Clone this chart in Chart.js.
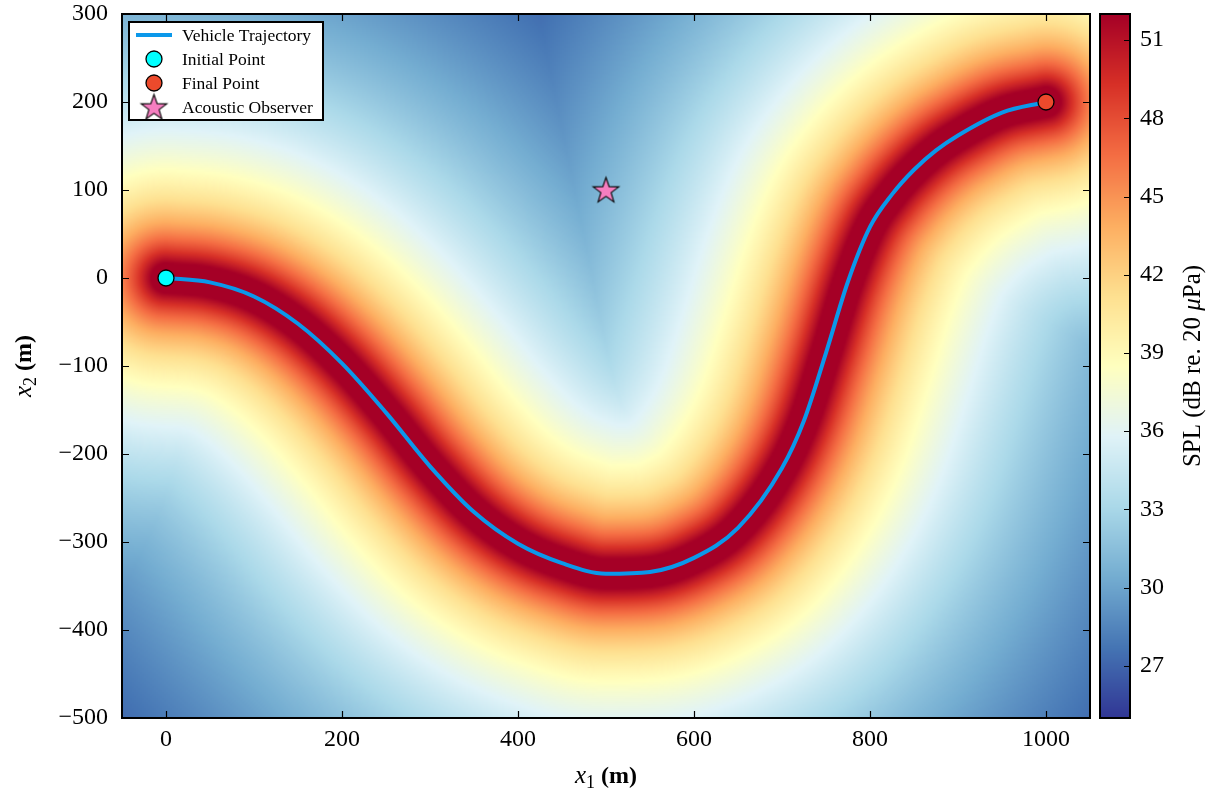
<!DOCTYPE html>
<html><head><meta charset="utf-8">
<script src="https://cdn.jsdelivr.net/npm/chart.js@4.4.1/dist/chart.umd.min.js"></script>
<style>html,body{margin:0;padding:0;background:#fff;}#wrap{position:relative;width:1213px;height:790px;}</style>
</head><body><div id="wrap"><canvas id="c" width="1213" height="790"></canvas></div>
<script>
// ---- data ----
const TRAJ_X = [0,50,100,150,200,250,300,350,400,450,500,550,600,650,700,725,750,775,800,825,850,875,900,950,1000];
const TRAJ_Y = [0,-5,-21,-52,-97,-153,-214,-266,-302,-324,-336,-334,-318,-284,-216,-162,-85,-4,58,95,123,145,162,188,200];
const INITIAL_POINT = [0, 0];
const FINAL_POINT = [1000, 200];
const OBSERVER = [500, 100];
const X_TICKS = [0,200,400,600,800,1000];
const Y_TICKS = [-500,-400,-300,-200,-100,0,100,200,300];
const SPL_TICKS = [27,30,33,36,39,42,45,48,51];
const X_RANGE = [-50, 1050];
const Y_RANGE = [-500, 300];
const SPL_RANGE = [25, 52];
const LABELS = ['Vehicle Trajectory','Initial Point','Final Point','Acoustic Observer'];
// SPL field model: level at 1 m and vehicle altitude (m)
const SPL_AT_1M = 80.4;
const ALTITUDE = 20;
const CMAP = ['#313695','#4575b4','#74add1','#abd9e9','#e0f3f8','#ffffbf','#fee090','#fdae61','#f46d43','#d73027','#a50026'];

const FONT = '"Liberation Serif", "DejaVu Serif", serif';
const LINE_COLOR = '#0b98ea';

function hex(h){return [parseInt(h.slice(1,3),16),parseInt(h.slice(3,5),16),parseInt(h.slice(5,7),16)];}
const CMAP_RGB = CMAP.map(hex);
function cmap(t){
  t = Math.max(0, Math.min(1, t));
  const f = t*(CMAP_RGB.length-1), i = Math.min(Math.floor(f), CMAP_RGB.length-2), u = f-i;
  const a = CMAP_RGB[i], b = CMAP_RGB[i+1];
  return [a[0]+(b[0]-a[0])*u, a[1]+(b[1]-a[1])*u, a[2]+(b[2]-a[2])*u];
}

// monotone cubic (same scheme the line uses) to get the trajectory geometry
function monoSlopes(xs, ys){
  const n = xs.length, d = [], m = new Array(n);
  for (let i=0;i<n-1;i++) d.push((ys[i+1]-ys[i])/(xs[i+1]-xs[i]));
  m[0]=d[0]; m[n-1]=d[n-2];
  for (let i=1;i<n-1;i++) m[i] = (d[i-1]*d[i] <= 0) ? 0 : (d[i-1]+d[i])/2;
  for (let i=0;i<n-1;i++){
    if (d[i]===0){m[i]=0;m[i+1]=0;continue;}
    const a=m[i]/d[i], b=m[i+1]/d[i], s=a*a+b*b;
    if (s>9){const t=3/Math.sqrt(s); m[i]=t*a*d[i]; m[i+1]=t*b*d[i];}
  }
  return m;
}
function samplePath(){
  const m = monoSlopes(TRAJ_X, TRAJ_Y), px=[], py=[];
  for (let i=0;i<TRAJ_X.length-1;i++){
    const x0=TRAJ_X[i], x1=TRAJ_X[i+1], y0=TRAJ_Y[i], y1=TRAJ_Y[i+1], h=x1-x0;
    const N = 16;
    for (let k=0;k<N;k++){
      const t=k/N, t2=t*t, t3=t2*t;
      const y = (2*t3-3*t2+1)*y0 + (t3-2*t2+t)*h*m[i] + (-2*t3+3*t2)*y1 + (t3-t2)*h*m[i+1];
      px.push(x0+h*t); py.push(y);
    }
  }
  px.push(TRAJ_X[TRAJ_X.length-1]); py.push(TRAJ_Y[TRAJ_Y.length-1]);
  return [px, py];
}

function buildField(chart){
  const a = chart.chartArea, sx = chart.scales.x, sy = chart.scales.y;
  const W = Math.ceil(a.width/2), H = Math.ceil(a.height/2);
  const cv = document.createElement('canvas'); cv.width=W; cv.height=H;
  const c = cv.getContext('2d'); const img = c.createImageData(W,H);
  const [px, py] = samplePath(); const n = px.length;
  const xv = new Float64Array(W);
  for (let i=0;i<W;i++) xv[i] = sx.getValueForPixel(a.left + (i+0.5)*a.width/W);
  for (let j=0;j<H;j++){
    const yv = sy.getValueForPixel(a.top + (j+0.5)*a.height/H);
    for (let i=0;i<W;i++){
      const X = xv[i]; let best = Infinity;
      for (let k=0;k<n-1;k++){
        const ax=px[k], ay=py[k], bx=px[k+1]-ax, by=py[k+1]-ay;
        let t = ((X-ax)*bx + (yv-ay)*by)/(bx*bx+by*by);
        t = t<0?0:(t>1?1:t);
        const dx = X-ax-t*bx, dy = yv-ay-t*by, d2 = dx*dx+dy*dy;
        if (d2<best) best=d2;
      }
      const spl = SPL_AT_1M - 10*Math.log10(best + ALTITUDE*ALTITUDE);
      const col = cmap((spl-SPL_RANGE[0])/(SPL_RANGE[1]-SPL_RANGE[0]));
      const o = (j*W+i)*4;
      img.data[o]=col[0]; img.data[o+1]=col[1]; img.data[o+2]=col[2]; img.data[o+3]=255;
    }
  }
  c.putImageData(img,0,0);
  return cv;
}

function makeStar(R, fill){
  const s = Math.ceil(R*2+4), cv = document.createElement('canvas'); cv.width=s; cv.height=s;
  const c = cv.getContext('2d'); const cx=s/2, cy=s/2+1, r=R*0.4;
  c.beginPath();
  for (let k=0;k<10;k++){
    const ang = -Math.PI/2 + k*Math.PI/5, rr = k%2===0?R:r;
    const x = cx+rr*Math.cos(ang), y = cy+rr*Math.sin(ang);
    k===0?c.moveTo(x,y):c.lineTo(x,y);
  }
  c.closePath(); c.fillStyle=fill; c.fill(); c.lineWidth=1.1; c.strokeStyle='#000'; c.stroke();
  return cv;
}
const STAR = makeStar(13.5, '#f57ec0');

const fieldPlugin = {
  id:'field',
  beforeDatasetsDraw(chart){
    const a = chart.chartArea, ctx = chart.ctx;
    if (!chart.$field) chart.$field = buildField(chart);
    ctx.save(); ctx.imageSmoothingEnabled = true; ctx.imageSmoothingQuality='high';
    ctx.drawImage(chart.$field, a.left, a.top, a.width, a.height);
    ctx.restore();
  }
};

function drawMathLabel(ctx, parts, cx, base){
  let w = 0; const ws = parts.map(p=>{ctx.font=p[1]; const m=ctx.measureText(p[0]).width; w+=m; return m;});
  let x = cx - w/2;
  parts.forEach((p,i)=>{ctx.font=p[1]; ctx.fillText(p[0], x, base+p[2]); x+=ws[i];});
}

const decorPlugin = {
  id:'decor',
  afterDraw(chart){
    const ctx = chart.ctx, a = chart.chartArea, sx=chart.scales.x, sy=chart.scales.y, cb=chart.scales.cb;
    ctx.save();
    // ticks (inward, all sides)
    ctx.strokeStyle='#000'; ctx.lineWidth=1.2; const TL=7;
    ctx.beginPath();
    X_TICKS.forEach(v=>{const p=Math.round(sx.getPixelForValue(v))+0.5; ctx.moveTo(p,a.bottom); ctx.lineTo(p,a.bottom-TL); ctx.moveTo(p,a.top); ctx.lineTo(p,a.top+TL);});
    Y_TICKS.forEach(v=>{const p=Math.round(sy.getPixelForValue(v))+0.5; ctx.moveTo(a.left,p); ctx.lineTo(a.left+TL,p); ctx.moveTo(a.right,p); ctx.lineTo(a.right-TL,p);});
    ctx.stroke();
    ctx.lineWidth=2; ctx.strokeRect(a.left, a.top, a.width, a.height);

    // colorbar
    const bx0 = a.right+10, bx1 = a.right+40;
    for (let y=Math.floor(a.top); y<Math.ceil(a.bottom); y++){
      const v = cb.getValueForPixel(y+0.5);
      const c = cmap((v-SPL_RANGE[0])/(SPL_RANGE[1]-SPL_RANGE[0]));
      ctx.fillStyle = `rgb(${c[0]|0},${c[1]|0},${c[2]|0})`;
      ctx.fillRect(bx0, y, bx1-bx0, 1);
    }
    ctx.strokeStyle='#000'; ctx.lineWidth=1.2; ctx.beginPath();
    SPL_TICKS.forEach(v=>{const p=Math.round(cb.getPixelForValue(v))+0.5; ctx.moveTo(bx1,p); ctx.lineTo(bx1-6,p);});
    ctx.stroke();
    ctx.lineWidth=2; ctx.strokeRect(bx0, a.top, bx1-bx0, a.height);

    // axis titles
    ctx.fillStyle='#000'; ctx.textBaseline='alphabetic';
    drawMathLabel(ctx, [['x','italic 25px '+FONT,0],['1','18px '+FONT,5],[' (m)','bold 24px '+FONT,0]], (a.left+a.right)/2, 783);
    ctx.save(); ctx.translate(31, (a.top+a.bottom)/2); ctx.rotate(-Math.PI/2);
    drawMathLabel(ctx, [['x','italic 25px '+FONT,0],['2','18px '+FONT,5],[' (m)','bold 24px '+FONT,0]], 0, 0);
    ctx.restore();
    ctx.save(); ctx.translate(1200, (a.top+a.bottom)/2); ctx.rotate(-Math.PI/2);
    drawMathLabel(ctx, [['SPL (dB re. 20 ','25px '+FONT,0],['\u03bc','italic 25px '+FONT,0],['Pa)','25px '+FONT,0]], 0, 0);
    ctx.restore();

    // legend
    const L = {x:129, y:22, w:194, h:98};
    ctx.fillStyle='#fff'; ctx.fillRect(L.x,L.y,L.w,L.h);
    ctx.lineWidth=2; ctx.strokeStyle='#000'; ctx.strokeRect(L.x,L.y,L.w,L.h);
    const ds = chart.data.datasets, rows=[35,59,83,107];
    ctx.font='17.5px '+FONT; ctx.textBaseline='middle'; ctx.textAlign='left';
    ds.forEach((d,i)=>{
      const y = rows[i], mx = 154;
      if (i===0){ ctx.strokeStyle=d.borderColor; ctx.lineWidth=d.borderWidth; ctx.beginPath(); ctx.moveTo(136,y); ctx.lineTo(172,y); ctx.stroke(); }
      else if (d.pointStyle==='circle'){ ctx.beginPath(); ctx.arc(mx,y,d.pointRadius,0,Math.PI*2); ctx.fillStyle=d.backgroundColor; ctx.fill(); ctx.lineWidth=d.borderWidth; ctx.strokeStyle=d.borderColor; ctx.stroke(); }
      else { ctx.drawImage(STAR, mx-STAR.width/2, y-STAR.height/2); }
      ctx.fillStyle='#000'; ctx.fillText(d.label, 182, y+1);
    });
    ctx.restore();
  }
};

function noPad(s){ s.paddingTop=0; s.paddingBottom=0; s.paddingLeft=0; s.paddingRight=0; }
const traj = TRAJ_X.map((x,i)=>({x, y:TRAJ_Y[i]}));
new Chart(document.getElementById('c'), {
  type:'scatter',
  data:{datasets:[
    {label:LABELS[0], type:'line', data:traj, borderColor:LINE_COLOR, borderWidth:4, pointRadius:0, cubicInterpolationMode:'monotone', fill:false, order:4},
    {label:LABELS[1], data:[{x:INITIAL_POINT[0], y:INITIAL_POINT[1]}], pointStyle:'circle', pointRadius:8, backgroundColor:'#00ffff', borderColor:'#000', borderWidth:1.3, order:2, clip:false},
    {label:LABELS[2], data:[{x:FINAL_POINT[0], y:FINAL_POINT[1]}], pointStyle:'circle', pointRadius:8, backgroundColor:'#ec4a2c', borderColor:'#000', borderWidth:1.3, order:2, clip:false},
    {label:LABELS[3], data:[{x:OBSERVER[0], y:OBSERVER[1]}], pointStyle:STAR, pointRadius:13, backgroundColor:'#f57ec0', borderColor:'#000', order:1, clip:false}
  ]},
  options:{
    responsive:false, animation:false, devicePixelRatio:1,
    layout:{padding:{top:14,left:0,right:0,bottom:0}},
    plugins:{legend:{display:false}, tooltip:{enabled:false}},
    scales:{
      x:{type:'linear', min:X_RANGE[0], max:X_RANGE[1], grid:{display:false, drawTicks:false}, border:{display:false},
         afterBuildTicks(s){s.ticks=X_TICKS.map(v=>({value:v}));},
         afterFit(s){s.height=72; noPad(s);},
         ticks:{padding:7, color:'#000', font:{family:FONT, size:24}, maxRotation:0, callback:v=>String(v).replace('-','\u2212')}},
      y:{type:'linear', min:Y_RANGE[0], max:Y_RANGE[1], grid:{display:false, drawTicks:false}, border:{display:false},
         afterBuildTicks(s){s.ticks=Y_TICKS.map(v=>({value:v}));},
         afterFit(s){s.width=122; noPad(s);},
         ticks:{padding:14, color:'#000', font:{family:FONT, size:24}, callback:v=>String(v).replace('-','\u2212')}},
      cb:{type:'linear', position:'right', min:SPL_RANGE[0], max:SPL_RANGE[1], grid:{display:false, drawTicks:false}, border:{display:false},
         afterBuildTicks(s){s.ticks=SPL_TICKS.map(v=>({value:v}));},
         afterFit(s){s.width=123; noPad(s);},
         ticks:{padding:50, color:'#000', font:{family:FONT, size:24}}}
    }
  },
  plugins:[fieldPlugin, decorPlugin]
});
</script></body></html>
